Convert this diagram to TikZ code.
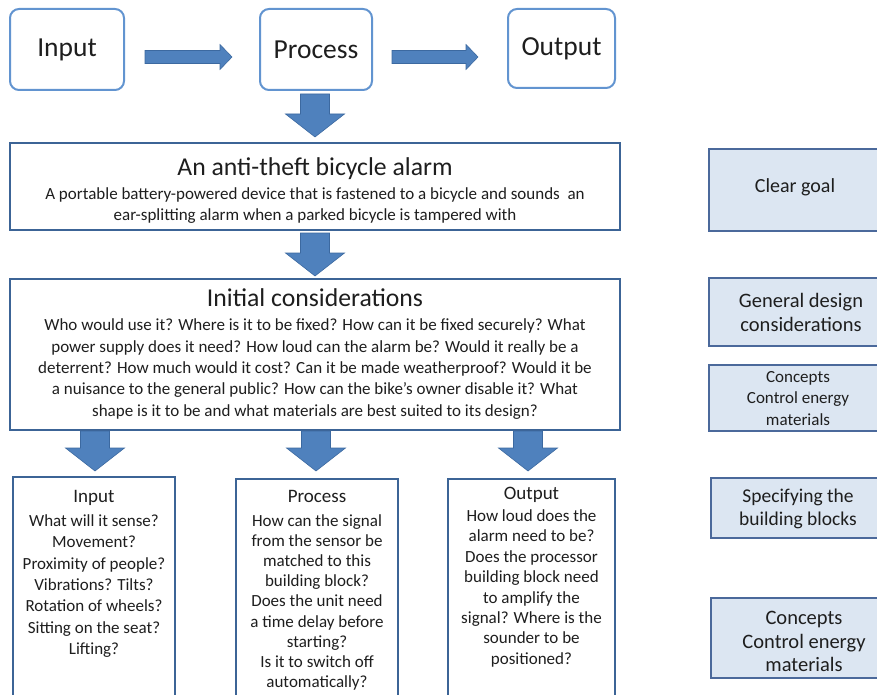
\documentclass[tikz,border=0pt]{standalone}
\usepackage{fontspec}
\setmainfont{Carlito}
\usetikzlibrary{calc}
\definecolor{topborder}{RGB}{98,148,208}
\definecolor{arrfill}{RGB}{79,129,189}
\definecolor{arrdraw}{RGB}{60,105,160}
\definecolor{boxborder}{RGB}{60,100,150}
\definecolor{sidefill}{RGB}{220,230,242}
\definecolor{sideborder}{RGB}{75,105,155}
\definecolor{txt}{RGB}{30,30,30}
\tikzset{
  topbox/.style={draw=topborder, line width=2pt, rounded corners=9pt, fill=white,
    text=txt, font=\fontsize{27.5}{30}\selectfont},
  mainbox/.style={draw=boxborder, line width=2pt, fill=white},
  bigtext/.style={align=center, inner sep=0pt, text=txt},
  sidebox/.style={draw=sideborder, fill=sidefill, line width=2pt, align=center,
    text=txt, font=\fontsize{19.5}{23.5}\selectfont},
  blockarrow/.style={fill=arrfill, draw=arrdraw, line width=0.6pt},
  btext/.style={align=center, inner sep=0pt, text=txt, font=\fontsize{17}{21.3}\selectfont}
}
\newcommand\DArrow[2]{%
  \path[blockarrow] ($(#1)+(-14.5,0)$) -- ($(#2)+(-14.5,-23)$) -- ($(#2)+(-29.5,-23)$) --
    (#2) -- ($(#2)+(29.5,-23)$) -- ($(#2)+(14.5,-23)$) -- ($(#1)+(14.5,0)$) -- cycle;}
\newcommand\HArrow[2]{%
  \path[blockarrow] ($(#1)+(0,-6.5)$) -- ($(#2)+(-12,-6.5)$) -- ($(#2)+(-12,-12.5)$) --
    (#2) -- ($(#2)+(-12,12.5)$) -- ($(#2)+(-12,6.5)$) -- ($(#1)+(0,6.5)$) -- cycle;}
\begin{document}
\begin{tikzpicture}[x=1pt,y=-1pt]
\useasboundingbox (0,0) rectangle (877,695);
% top row
\node[topbox, minimum width=114pt, minimum height=81pt] (in) at (67,49.5) {Input};
\node[topbox, minimum width=112pt, minimum height=81pt] (pr) at (316,49.5) {Process};
\node[topbox, minimum width=107pt, minimum height=79pt] (out) at (561.5,48.5) {Output};
\coordinate (h1s) at (145,57);
\coordinate (h1e) at (232,57);
\coordinate (h2s) at (392,57);
\coordinate (h2e) at (478,57);
\HArrow{h1s}{h1e}
\HArrow{h2s}{h2e}
% goal box
\node[mainbox, minimum width=610pt, minimum height=87pt] (goal) at (315,186.5) {};
\node[bigtext, anchor=north, font=\fontsize{17}{20.5}\selectfont] (goalt) at (315,157) {%
  \fontsize{25.7}{26}\selectfont An anti-theft bicycle alarm\\[4pt]
  \fontsize{17}{20.5}\selectfont A portable battery-powered device that is fastened to a bicycle and sounds\ \ an\\
  ear-splitting alarm when a parked bicycle is tampered with};
\coordinate (d1s) at (315,94);
\coordinate (d1e) at (315,137);
\DArrow{d1s}{d1e}
% initial considerations
\node[mainbox, minimum width=610pt, minimum height=151pt] (init) at (315,354.5) {};
\node[bigtext, anchor=north, font=\fontsize{17}{21.3}\selectfont] (initt) at (315,288.5) {%
  \fontsize{25.7}{26}\selectfont Initial considerations\\[3pt]
  \fontsize{17}{21.3}\selectfont Who would use it? Where is it to be fixed? How can it be fixed securely? What\\
  power supply does it need? How loud can the alarm be? Would\ it really be a\\
  deterrent? How much would it cost? Can it be made weatherproof? Would it be\\
  a nuisance to the general public? How can the bike’s owner disable it? What\\
  shape is it to be and what materials are best suited to its design?};
\coordinate (d2s) at (315,233);
\coordinate (d2e) at (315,276);
\DArrow{d2s}{d2e}
% bottom boxes
\node[mainbox, minimum width=162pt, minimum height=240pt, anchor=north] (bin) at (94,476) {};
\node[mainbox, minimum width=162pt, minimum height=240pt, anchor=north] (bpr) at (317,478) {};
\node[mainbox, minimum width=167pt, minimum height=240pt, anchor=north] (bout) at (531.5,478) {};
\node[btext, anchor=north] (bint) at (94,490) {\fontsize{19}{21}\selectfont Input\\[3pt]\fontsize{17}{21.3}\selectfont What will it sense?\\Movement?\\Proximity of people?\\Vibrations? Tilts?\\Rotation of wheels?\\Sitting on the seat?\\Lifting?};
\node[btext, anchor=north, font=\fontsize{17}{20.2}\selectfont] (bprt) at (317,490.5) {\fontsize{19}{21}\selectfont Process\\[3pt]\fontsize{17}{20.2}\selectfont How can the signal\\from the sensor\ be\\matched to this\\building\ block?\\Does the unit need\\a time delay before\\starting?\\Is it to switch off\\automatically?};
\node[btext, anchor=north, font=\fontsize{17}{20.4}\selectfont] (boutt) at (531.5,487) {\fontsize{19}{21}\selectfont Output\\[1.6pt]\fontsize{17}{20.4}\selectfont How loud\ does the\\alarm need to be?\\Does the processor\\building\ block need\\to amplify\ the\\signal? Where is the\\sounder\ to be\\positioned?};
\coordinate (a1s) at (95,431);
\coordinate (a1e) at (95,471);
\coordinate (a2s) at (316,431);
\coordinate (a2e) at (316,471);
\coordinate (a3s) at (528,431);
\coordinate (a3e) at (528,471);
\DArrow{a1s}{a1e}
\DArrow{a2s}{a2e}
\DArrow{a3s}{a3e}
% side boxes
\node[sidebox, anchor=north west, minimum width=190pt, minimum height=82pt] (s1) at (708,148) {};
\node[sidebox, draw=none, fill=none, font=\fontsize{20}{23}\selectfont] (s1t) at (795,187) {Clear goal};
\node[sidebox, anchor=north west, minimum width=190pt, minimum height=68pt] (s2) at (708,277) {};
\node[sidebox, draw=none, fill=none, font=\fontsize{20.5}{24}\selectfont] (s2t) at (801,312.5) {General design\\considerations};
\node[sidebox, anchor=north west, minimum width=190pt, minimum height=66pt] (s3) at (708,364) {};
\node[sidebox, draw=none, fill=none, font=\fontsize{17}{21.5}\selectfont] (s3t) at (798,398.5) {Concepts\\Control energy\\materials};
\node[sidebox, anchor=north west, minimum width=190pt, minimum height=60pt] (s4) at (710,477) {};
\node[sidebox, draw=none, fill=none] (s4t) at (798,509) {Specifying the\\building blocks};
\node[sidebox, anchor=north west, minimum width=190pt, minimum height=80pt] (s5) at (710,597) {};
\node[sidebox, draw=none, fill=none, font=\fontsize{20.5}{23.5}\selectfont] (s5t) at (804,641.5) {Concepts\\Control\ energy\\materials};
\end{tikzpicture}
\end{document}
